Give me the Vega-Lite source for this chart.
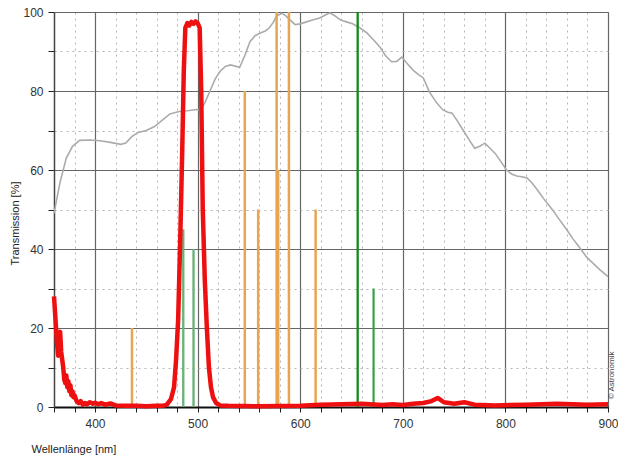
{
  "$schema": "https://vega.github.io/schema/vega-lite/v6.json",
  "autosize": {"type": "none"},
  "width": 554,
  "height": 395,
  "padding": {"left": 54, "top": 12, "right": 10, "bottom": 52},
  "background": "white",
  "config": {
    "view": {"stroke": "#9a9a9a", "strokeWidth": 1},
    "font": "Liberation Sans",
    "axis": {"labelOverlap": false, "labelFlush": false}
  },
  "datasets": {
    "gray": [
      {"nm": 360, "t": 49}, {"nm": 366, "t": 57}, {"nm": 372, "t": 63}, {"nm": 378, "t": 66}, {"nm": 385, "t": 67.5},
      {"nm": 395, "t": 67.6}, {"nm": 405, "t": 67.4}, {"nm": 415, "t": 67}, {"nm": 425, "t": 66.5}, {"nm": 430, "t": 66.8},
      {"nm": 436, "t": 68.5}, {"nm": 442, "t": 69.5}, {"nm": 450, "t": 70}, {"nm": 458, "t": 71}, {"nm": 465, "t": 72.5},
      {"nm": 473, "t": 74.2}, {"nm": 482, "t": 74.8}, {"nm": 490, "t": 75}, {"nm": 499, "t": 75.3}, {"nm": 503, "t": 75.2},
      {"nm": 507, "t": 77}, {"nm": 512, "t": 80}, {"nm": 517, "t": 83}, {"nm": 522, "t": 85}, {"nm": 527, "t": 86.2},
      {"nm": 532, "t": 86.6}, {"nm": 541, "t": 86}, {"nm": 546, "t": 89}, {"nm": 551, "t": 92.5}, {"nm": 556, "t": 94},
      {"nm": 561, "t": 94.7}, {"nm": 566, "t": 95.2}, {"nm": 570, "t": 96}, {"nm": 574, "t": 97.5}, {"nm": 577, "t": 99},
      {"nm": 582, "t": 99.7}, {"nm": 586, "t": 99}, {"nm": 590, "t": 98}, {"nm": 595, "t": 96.8}, {"nm": 600, "t": 97},
      {"nm": 606, "t": 97.5}, {"nm": 612, "t": 98}, {"nm": 619, "t": 98.5}, {"nm": 625, "t": 99.3}, {"nm": 629, "t": 99.8},
      {"nm": 634, "t": 99}, {"nm": 639, "t": 98}, {"nm": 645, "t": 97.5}, {"nm": 651, "t": 97}, {"nm": 658, "t": 96},
      {"nm": 665, "t": 94.7}, {"nm": 672, "t": 92.8}, {"nm": 678, "t": 91}, {"nm": 683, "t": 89}, {"nm": 689, "t": 87.4},
      {"nm": 694, "t": 87.5}, {"nm": 699, "t": 88.6}, {"nm": 704, "t": 87}, {"nm": 710, "t": 85.3}, {"nm": 715, "t": 84.2},
      {"nm": 720, "t": 83.3}, {"nm": 726, "t": 79.7}, {"nm": 733, "t": 77}, {"nm": 739, "t": 75.2}, {"nm": 744, "t": 74.6},
      {"nm": 748, "t": 74.4}, {"nm": 753, "t": 72.5}, {"nm": 759, "t": 70}, {"nm": 765, "t": 67.5}, {"nm": 770, "t": 65.5},
      {"nm": 775, "t": 66}, {"nm": 780, "t": 66.8}, {"nm": 785, "t": 65.5}, {"nm": 790, "t": 64.2}, {"nm": 796, "t": 62},
      {"nm": 801, "t": 60}, {"nm": 806, "t": 59}, {"nm": 811, "t": 58.5}, {"nm": 816, "t": 58.3}, {"nm": 821, "t": 58},
      {"nm": 826, "t": 56.7}, {"nm": 831, "t": 55}, {"nm": 838, "t": 52.5}, {"nm": 846, "t": 49.9}, {"nm": 853, "t": 47.3},
      {"nm": 860, "t": 44.8}, {"nm": 866, "t": 42.5}, {"nm": 872, "t": 40.5}, {"nm": 879, "t": 38}, {"nm": 885, "t": 36.5},
      {"nm": 892, "t": 34.8}, {"nm": 900, "t": 33}
    ],
    "red": [
      {"nm": 360, "t": 28}, {"nm": 361, "t": 24}, {"nm": 362, "t": 20}, {"nm": 363, "t": 16}, {"nm": 364, "t": 13},
      {"nm": 365, "t": 18.5}, {"nm": 366, "t": 19}, {"nm": 367, "t": 14}, {"nm": 368, "t": 12}, {"nm": 369, "t": 10},
      {"nm": 370, "t": 7}, {"nm": 371, "t": 6}, {"nm": 372, "t": 8}, {"nm": 373, "t": 5}, {"nm": 374, "t": 6.5},
      {"nm": 375, "t": 4}, {"nm": 376, "t": 5.5}, {"nm": 377, "t": 3}, {"nm": 378, "t": 4}, {"nm": 379, "t": 2.5},
      {"nm": 380, "t": 3}, {"nm": 382, "t": 1.5}, {"nm": 384, "t": 1}, {"nm": 386, "t": 1.5}, {"nm": 388, "t": 0.6},
      {"nm": 390, "t": 1.0}, {"nm": 392, "t": 0.7}, {"nm": 395, "t": 1.2}, {"nm": 398, "t": 0.8}, {"nm": 400, "t": 1.1},
      {"nm": 403, "t": 0.7}, {"nm": 406, "t": 1.0}, {"nm": 410, "t": 0.6}, {"nm": 415, "t": 0.9}, {"nm": 420, "t": 0.4},
      {"nm": 430, "t": 0.3}, {"nm": 440, "t": 0.3}, {"nm": 450, "t": 0.2}, {"nm": 460, "t": 0.3}, {"nm": 466, "t": 0.3},
      {"nm": 470, "t": 0.6}, {"nm": 474, "t": 2}, {"nm": 477, "t": 5}, {"nm": 479, "t": 12}, {"nm": 481, "t": 22},
      {"nm": 483, "t": 42}, {"nm": 485, "t": 65}, {"nm": 486.5, "t": 85}, {"nm": 488, "t": 96}, {"nm": 490, "t": 97.2},
      {"nm": 492, "t": 96.6}, {"nm": 494, "t": 97.5}, {"nm": 496, "t": 97}, {"nm": 498, "t": 97.6}, {"nm": 500, "t": 97.2},
      {"nm": 502, "t": 96}, {"nm": 503.5, "t": 80}, {"nm": 505, "t": 50}, {"nm": 507, "t": 32}, {"nm": 509, "t": 20},
      {"nm": 511, "t": 10}, {"nm": 513, "t": 5}, {"nm": 515, "t": 2.5}, {"nm": 518, "t": 1}, {"nm": 522, "t": 0.4},
      {"nm": 530, "t": 0.3}, {"nm": 560, "t": 0.2}, {"nm": 600, "t": 0.3}, {"nm": 620, "t": 0.6}, {"nm": 640, "t": 0.7},
      {"nm": 660, "t": 0.8}, {"nm": 680, "t": 0.5}, {"nm": 690, "t": 0.7}, {"nm": 700, "t": 0.5}, {"nm": 710, "t": 0.8},
      {"nm": 720, "t": 1.0}, {"nm": 728, "t": 1.5}, {"nm": 734, "t": 2.3}, {"nm": 740, "t": 1.2}, {"nm": 750, "t": 0.8},
      {"nm": 760, "t": 1.2}, {"nm": 770, "t": 0.6}, {"nm": 790, "t": 0.4}, {"nm": 820, "t": 0.6}, {"nm": 850, "t": 0.8},
      {"nm": 880, "t": 0.6}, {"nm": 900, "t": 0.7}
    ],
    "lines": [
      {"nm": 436, "t": 20, "kind": "orange"},
      {"nm": 486, "t": 45, "kind": "lightgreen"},
      {"nm": 496, "t": 40, "kind": "lightgreen"},
      {"nm": 546, "t": 80, "kind": "orange"},
      {"nm": 559, "t": 50, "kind": "orange"},
      {"nm": 577, "t": 100, "kind": "orange"},
      {"nm": 578.5, "t": 60, "kind": "orange"},
      {"nm": 589, "t": 100, "kind": "orange"},
      {"nm": 615, "t": 50, "kind": "orange"},
      {"nm": 656, "t": 100, "kind": "darkgreen"},
      {"nm": 671.5, "t": 30, "kind": "green"}
    ],
    "credit": [{"label": "© Astronomik", "nm": 903.5, "t": 8}]
  },
  "encoding": {
    "x": {
      "field": "nm", "type": "quantitative",
      "scale": {"domain": [360, 900], "nice": false, "zero": false},
      "axis": {
        "values": [360, 380, 400, 420, 440, 460, 480, 500, 520, 540, 560, 580, 600, 620, 640, 660, 680, 700, 720, 740, 760, 780, 800, 820, 840, 860, 880, 900],
        "labelExpr": "datum.value % 100 === 0 ? datum.label : ''",
        "title": "Wellenlänge [nm]",
        "titleFont": "Liberation Sans", "titleFontSize": 11, "titleFontWeight": "normal", "titleColor": "#222",
        "titleAnchor": "start", "titleAlign": "left", "titleX": -23, "titleY": 45, "titleBaseline": "alphabetic",
        "labelFont": "Liberation Sans", "labelFontSize": 12, "labelColor": "#333", "labelPadding": 6,
        "labelFlush": false, "labelOverlap": false,
        "tickColor": "#222", "tickSize": 5, "tickWidth": 1,
        "domainColor": "#111", "domainWidth": 2,
        "grid": true,
        "gridColor": {"condition": {"test": "datum.value % 100 === 0", "value": "#666"}, "value": "#b5b5b5"},
        "gridDash": {"condition": {"test": "datum.value % 100 === 0", "value": []}, "value": [2, 4]},
        "gridWidth": {"condition": {"test": "datum.value % 100 === 0", "value": 1.2}, "value": 1}
      }
    },
    "y": {
      "field": "t", "type": "quantitative",
      "scale": {"domain": [0, 100], "nice": false},
      "axis": {
        "values": [0, 10, 20, 30, 40, 50, 60, 70, 80, 90, 100],
        "labelExpr": "datum.value % 20 === 0 ? datum.label : ''",
        "title": "Transmission [%]",
        "titleFont": "Liberation Sans", "titleFontSize": 11, "titleFontWeight": "normal", "titleColor": "#222",
        "titleAngle": 270, "titleX": -39, "titleY": 211, "titleAlign": "center", "titleBaseline": "middle",
        "labelFont": "Liberation Sans", "labelFontSize": 12, "labelColor": "#333", "labelPadding": 5,
        "labelFlush": false, "labelOverlap": false,
        "tickColor": "#222", "tickSize": 6, "tickWidth": 1,
        "domainColor": "#444", "domainWidth": 1.5,
        "grid": true,
        "gridColor": {"condition": {"test": "datum.value % 20 === 0", "value": "#666"}, "value": "#b5b5b5"},
        "gridDash": {"condition": {"test": "datum.value % 20 === 0", "value": []}, "value": [2, 4]},
        "gridWidth": {"condition": {"test": "datum.value % 20 === 0", "value": 1.2}, "value": 1}
      }
    }
  },
  "layer": [
    {
      "data": {"name": "gray"},
      "mark": {"type": "line", "color": "#ababab", "strokeWidth": 1.6},
      "encoding": {}
    },
    {
      "data": {"name": "lines"},
      "mark": {"type": "rule"},
      "encoding": {
        "y2": {"datum": 0},
        "color": {
          "field": "kind", "type": "nominal", "legend": null,
          "scale": {"domain": ["orange", "lightgreen", "darkgreen", "green"], "range": ["#e6a552", "#6db27a", "#118a18", "#38a046"]}
        },
        "strokeWidth": {
          "field": "kind", "type": "nominal", "legend": null,
          "scale": {"domain": ["orange", "lightgreen", "darkgreen", "green"], "range": [2.5, 2.2, 2.8, 2]}
        }
      }
    },
    {
      "data": {"name": "red"},
      "mark": {"type": "line", "color": "#ee1010", "strokeWidth": 4.5, "strokeJoin": "round"},
      "encoding": {}
    },
    {
      "data": {"name": "credit"},
      "mark": {"type": "text", "angle": 270, "align": "center", "baseline": "middle", "fontSize": 8, "color": "#444", "font": "Liberation Sans"},
      "encoding": {
        "text": {"field": "label"}
      }
    }
  ]
}
